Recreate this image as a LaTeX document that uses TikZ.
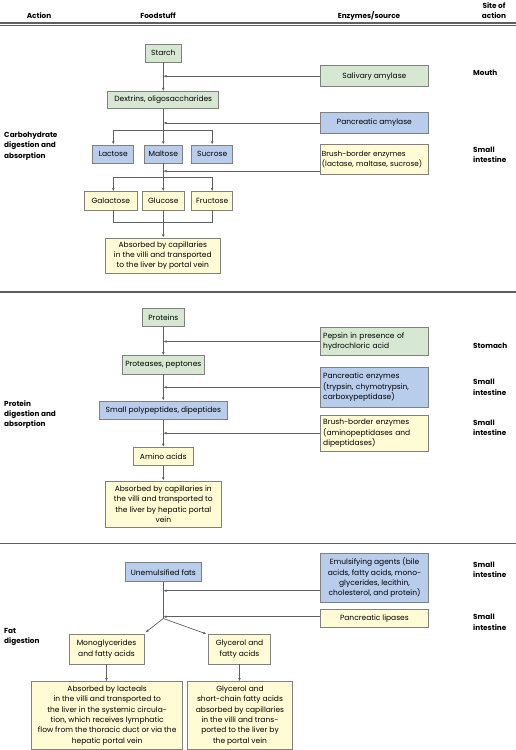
\documentclass[tikz,border=0pt]{standalone}
\usepackage{fontspec}
\setmainfont{Poppins}
\usetikzlibrary{arrows.meta}
\definecolor{gfill}{RGB}{214,232,210}
\definecolor{bfill}{RGB}{184,204,236}
\definecolor{yfill}{RGB}{255,251,212}
\definecolor{bdr}{RGB}{128,128,128}
\definecolor{lnc}{RGB}{95,95,95}
\newcommand{\boxfont}{\fontsize{7.5}{10.3}\selectfont}
\newcommand{\lblfont}{\fontsize{7.3}{10.3}\selectfont\bfseries}
\begin{document}
\begin{tikzpicture}[x=1pt,y=-1pt,
  bx/.style={draw=bdr,line width=0.8pt,inner sep=1pt,align=center,font=\boxfont},
  gbox/.style={bx,fill=gfill},
  bbox/.style={bx,fill=bfill},
  ybox/.style={bx,fill=yfill},
  lbl/.style={inner sep=0pt,align=left,anchor=west,font=\lblfont},
  hdr/.style={inner sep=0pt,align=center,font=\lblfont},
  ln/.style={draw=lnc,line width=0.7pt},
  arr/.style={ln,-{Latex[length=3.2pt,width=2.6pt]}},
  divider/.style={draw=lnc,line width=1.3pt}]
\useasboundingbox (0,0) rectangle (516,750);
\fill[white] (0,0) rectangle (516,750);

% header
\node[hdr] (hAction) at (39,15.5) {Action};
\node[hdr] (hFood) at (158,15.5) {Foodstuff};
\node[hdr] (hEnz) at (369,15.5) {Enzymes/source};
\node[hdr] (hSite) at (494,10.5) {Site of\\action};
\draw[draw=lnc,line width=2pt] (0,23) -- (516,23);
\draw[draw=lnc,line width=0.7pt] (0,25.4) -- (516,25.4);
\draw[divider] (0,292) -- (516,292);
\draw[divider] (0,543.3) -- (516,543.3);

% ===== Carbohydrate =====
\node[lbl] (lCarb) at (4,146) {Carbohydrate\\digestion and\\absorption};
\node[lbl] (sMouth) at (473,72.7) {Mouth};
\node[lbl] (sSI1) at (473,155) {Small\\intestine};

\node[gbox,minimum width=36pt,minimum height=18pt] (starch) at (163.3,53) {Starch};
\node[gbox,minimum width=111pt,minimum height=17pt] (dex) at (163.3,100) {Dextrins, oligosaccharides};
\node[bbox,minimum width=41pt,minimum height=18pt] (lac) at (113.3,154) {Lactose};
\node[bbox,minimum width=38.5pt,minimum height=18pt] (mal) at (163.3,154) {Maltose};
\node[bbox,minimum width=41pt,minimum height=18pt] (suc) at (212.2,154) {Sucrose};
\node[ybox,minimum width=53pt,minimum height=18.3pt] (gal) at (110.8,200.8) {Galactose};
\node[ybox,minimum width=41.6pt,minimum height=18.3pt] (glu) at (163.3,200.8) {Glucose};
\node[ybox,minimum width=41pt,minimum height=18.3pt] (fru) at (212.2,200.8) {Fructose};
\node[ybox,minimum width=114.3pt,minimum height=35pt] (abs1) at (162.8,255.5) {Absorbed by capillaries\\in the villi and transported\\to the liver by portal vein};

\node[gbox,minimum width=107.8pt,minimum height=21pt] (sal) at (374.4,76.2) {Salivary amylase};
\node[bbox,minimum width=107.8pt,minimum height=20.6pt] (pam) at (374.4,123) {Pancreatic amylase};
\node[ybox,text width=105pt,inner xsep=1.4pt,align=left,minimum height=29.7pt,font=\fontsize{7.3}{10.3}\selectfont] (bbc) at (374.4,159.2) {Brush-border enzymes\\(lactase, maltase, sucrose)};

\draw[arr] (starch.south) -- (dex.north);
\draw[arr] (sal.west) -- (sal.west -| starch.south);
\coordinate (b1) at (163.3,130);
\draw[ln] (dex.south) -- (b1);
\draw[arr] (pam.west) -- (pam.west -| dex.south);
\draw[ln] (lac.north |- b1) -- (suc.north |- b1);
\draw[arr] (lac.north |- b1) -- (lac.north);
\draw[arr] (b1) -- (mal.north);
\draw[arr] (suc.north |- b1) -- (suc.north);
\coordinate (b2) at (163.3,177.3);
\draw[ln] (mal.south) -- (b2);
\coordinate (bbcA) at ([yshift=3.3pt]bbc.south west);
\draw[arr] (bbcA) -- (bbcA -| mal.south);
\draw[ln] (lac.south |- b2) -- (suc.south |- b2);
\draw[arr] (lac.south |- b2) -- (lac.south |- gal.north);
\draw[arr] (b2) -- (glu.north);
\draw[arr] (suc.south |- b2) -- (fru.north);
\coordinate (m1) at (163.3,222.7);
\draw[ln] (lac.south |- gal.south) -- (lac.south |- m1) -- (suc.south |- m1) -- (fru.south);
\draw[arr] (glu.south) -- (glu.south |- abs1.north);

% ===== Protein =====
\node[lbl] (lProt) at (4,414.7) {Protein\\digestion and\\absorption};
\node[lbl] (sStom) at (473,346) {Stomach};
\node[lbl] (sSI2) at (473,387.3) {Small\\intestine};
\node[lbl] (sSI3) at (473,428) {Small\\intestine};

\node[gbox,minimum width=41.7pt,minimum height=18.4pt] (prot) at (163.3,317.5) {Proteins};
\node[gbox,minimum width=81.6pt,minimum height=18.3pt] (ptase) at (163.3,364.9) {Proteases, peptones};
\node[bbox,minimum width=128.7pt,minimum height=18.3pt] (poly) at (163.3,410.2) {Small polypeptides, dipeptides};
\node[ybox,minimum width=60pt,minimum height=18.4pt] (amino) at (163.3,456.5) {Amino acids};
\node[ybox,minimum width=116.7pt,minimum height=46.7pt] (abs2) at (163.3,504.3) {Absorbed by capillaries in\\the villi and transported to\\the liver by hepatic portal\\vein};

\node[gbox,text width=102pt,inner xsep=3pt,align=left,minimum height=28pt] (pep) at (374.2,341.5) {Pepsin in presence of\\hydrochloric acid};
\node[bbox,text width=102pt,inner xsep=3pt,align=left,minimum height=40pt] (penz) at (374.2,387.3) {Pancreatic enzymes\\(trypsin, chymotrypsin,\\carboxypeptidase)};
\node[ybox,text width=102pt,inner xsep=3pt,align=left,minimum height=36.5pt] (bbp) at (374.2,433.2) {Brush-border enzymes\\(aminopeptidases and\\dipeptidases)};

\draw[arr] (prot.south) -- (ptase.north);
\draw[arr] (pep.west) -- (pep.west -| prot.south);
\draw[arr] (ptase.south) -- (poly.north);
\draw[arr] (penz.west) -- (penz.west -| ptase.south);
\draw[arr] (poly.south) -- (amino.north);
\draw[arr] (bbp.west) -- (bbp.west -| poly.south);
\draw[arr] (amino.south) -- (abs2.north);

% ===== Fat =====
\node[lbl] (lFat) at (4,637) {Fat\\digestion};
\node[lbl] (sSI4) at (473,570) {Small\\intestine};
\node[lbl] (sSI5) at (473,622.2) {Small\\intestine};

\node[bbox,minimum width=76.7pt,minimum height=19pt] (unem) at (163.3,572.2) {Unemulsified fats};
\node[bbox,minimum width=107.8pt,minimum height=49pt] (emu) at (374.5,577.8) {Emulsifying agents (bile\\acids, fatty acids, mono-\\glycerides, lecithin,\\cholesterol, and protein)};
\node[ybox,minimum width=107.8pt,minimum height=18.4pt] (lip) at (374.4,618.5) {Pancreatic lipases};
\node[ybox,minimum width=75pt,minimum height=29.7pt] (mono) at (106.5,649.2) {Monoglycerides\\and fatty acids};
\node[ybox,minimum width=62.4pt,minimum height=29.7pt] (gly) at (239.5,649.2) {Glycerol and\\fatty acids};
\node[ybox,minimum width=151pt,minimum height=67.6pt,inner xsep=0pt] (lact) at (107.2,715.5) {Absorbed by lacteals\\in the villi and transported to\\the liver in the systemic circula-\\tion, which receives lymphatic\\flow from the thoracic duct or via the\\hepatic portal vein};
\node[ybox,minimum width=105.4pt,minimum height=67.6pt] (gabs) at (240,715.5) {Glycerol and\\short-chain fatty acids\\absorbed by capillaries\\in the villi and trans-\\ported to the liver by\\the portal vein};

\coordinate (br) at (163.3,618.5);
\draw[ln] (unem.south) -- (br);
\coordinate (emuA) at ([yshift=-12.9pt]emu.west);
\draw[arr] (emuA) -- (emuA -| unem.south);
\coordinate (lipA) at ([yshift=1.8pt]lip.west);
\draw[arr] (lipA) -- (lipA -| unem.south);
\draw[arr] (br) -- ([xshift=1pt,yshift=1.5pt]mono.north east);
\draw[arr] (br) -- ([xshift=-1.5pt]gly.north west);
\draw[arr] (mono.south) -- (mono.south |- lact.north);
\draw[arr] (gly.south) -- (gly.south |- gabs.north);
\end{tikzpicture}
\end{document}
